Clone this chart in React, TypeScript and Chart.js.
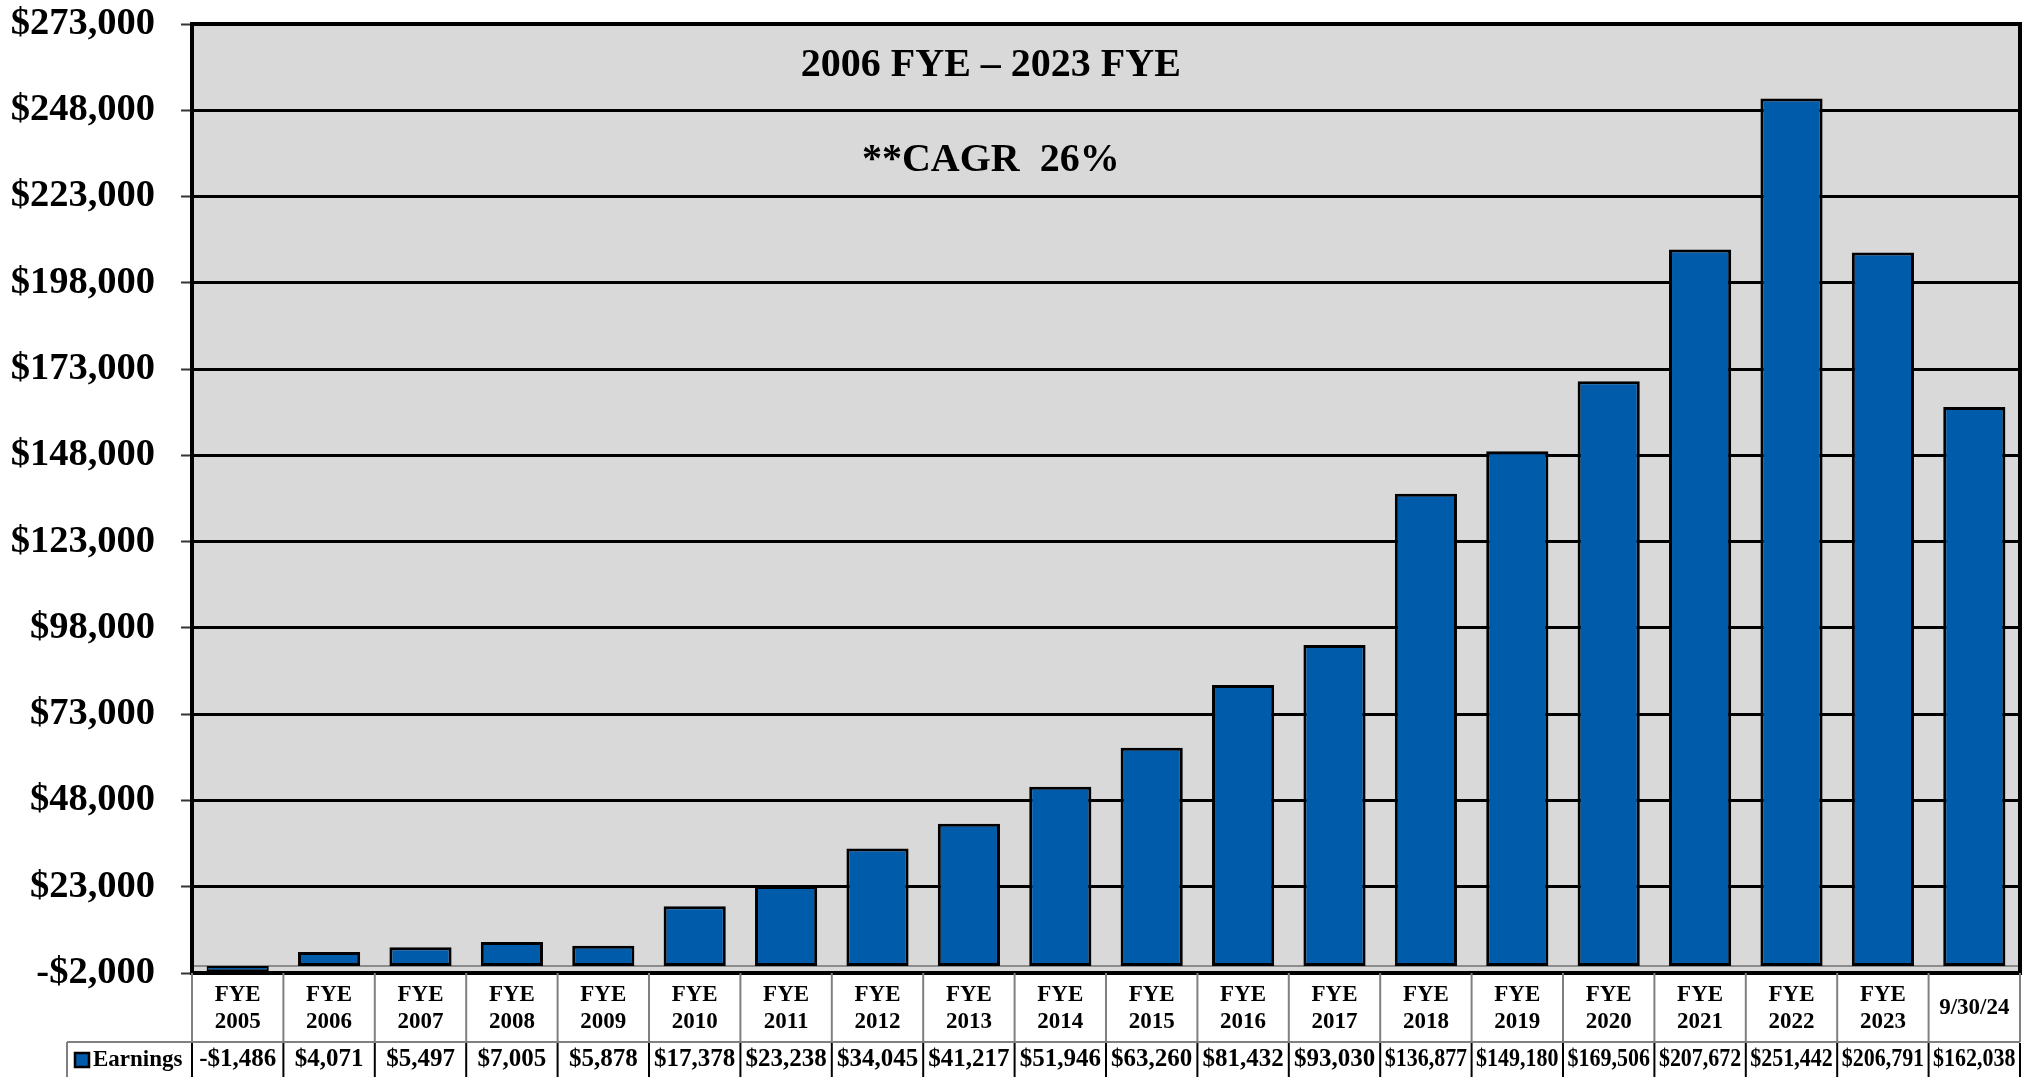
import React, { useEffect, useRef } from "react";
import { Chart, registerables } from "chart.js";

Chart.register(...registerables);

const CATEGORY_LINES: string[][] = [
  ["FYE", "2005"], ["FYE", "2006"], ["FYE", "2007"], ["FYE", "2008"], ["FYE", "2009"],
  ["FYE", "2010"], ["FYE", "2011"], ["FYE", "2012"], ["FYE", "2013"], ["FYE", "2014"],
  ["FYE", "2015"], ["FYE", "2016"], ["FYE", "2017"], ["FYE", "2018"], ["FYE", "2019"],
  ["FYE", "2020"], ["FYE", "2021"], ["FYE", "2022"], ["FYE", "2023"], ["9/30/24"],
];
const EARNINGS: number[] = [
  -1486, 4071, 5497, 7005, 5878, 17378, 23238, 34045, 41217, 51946,
  63260, 81432, 93030, 136877, 149180, 169506, 207672, 251442, 206791, 162038,
];
const SERIES_NAME = "Earnings";
const Y_MIN = -2000;
const Y_MAX = 273000;
const Y_STEP = 25000;
const TITLE_LINES = ["2006 FYE \u2013 2023 FYE", "**CAGR  26%"];

const FONT = '"Liberation Serif", "Times New Roman", serif';
const BAR_BLUE = "#005BAA";
const PLOT_BG = "#D9D9D9";

const fmtMoney = (v: number) =>
  (v < 0 ? "-$" : "$") + Math.abs(v).toLocaleString("en-US");

const W = 2022;
const H = 1077;

export default function App() {
  const ref = useRef<HTMLCanvasElement | null>(null);

  useEffect(() => {
    const canvas = ref.current;
    if (!canvas) return;

    const decor = {
      id: "decor",
      beforeDraw(chart: any) {
        const { ctx, chartArea: a } = chart;
        ctx.save();
        ctx.fillStyle = "#ffffff";
        ctx.fillRect(0, 0, chart.width, chart.height);
        ctx.fillStyle = PLOT_BG;
        ctx.fillRect(a.left, a.top, a.right - a.left, a.bottom - a.top);
        ctx.restore();
      },
      beforeDatasetsDraw(chart: any) {
        const { ctx, chartArea: a } = chart;
        const y0 = chart.scales.y.getPixelForValue(0);
        ctx.save();
        ctx.strokeStyle = "#8c8c8c";
        ctx.lineWidth = 2;
        ctx.beginPath();
        ctx.moveTo(a.left, y0);
        ctx.lineTo(a.right, y0);
        ctx.stroke();
        ctx.restore();
      },
      afterDraw(chart: any) {
        const { ctx, chartArea: a } = chart;
        const xs = chart.scales.x;
        const n = CATEGORY_LINES.length;
        const colW = (a.right - a.left) / n;
        ctx.save();

        // plot border
        ctx.strokeStyle = "#000";
        ctx.lineWidth = 4;
        ctx.strokeRect(a.left, a.top, a.right - a.left, a.bottom - a.top);

        // titles
        ctx.fillStyle = "#000";
        ctx.textAlign = "center";
        ctx.textBaseline = "middle";
        ctx.font = `bold 40px ${FONT}`;
        const tx = a.left + (a.right - a.left) * 0.437;
        ctx.fillText(TITLE_LINES[0], tx, a.top + 42);
        ctx.fillText(TITLE_LINES[1], tx, a.top + 137);

        // data table
        const headTop = a.bottom;
        const headBottom = a.bottom + 69;
        const rowBottom = chart.height;
        const legendLeft = 67;

        ctx.strokeStyle = "#808080";
        ctx.lineWidth = 2;
        for (let i = 0; i <= n; i++) {
          const x = a.left + i * colW;
          ctx.beginPath();
          ctx.moveTo(x, headTop);
          ctx.lineTo(x, headBottom);
          ctx.stroke();
        }
        ctx.beginPath();
        ctx.moveTo(legendLeft, headBottom);
        ctx.lineTo(a.right, headBottom);
        ctx.stroke();
        ctx.beginPath();
        ctx.moveTo(legendLeft, headBottom);
        ctx.lineTo(legendLeft, rowBottom);
        ctx.stroke();

        ctx.strokeStyle = "#000";
        for (let i = 0; i <= n; i++) {
          const x = a.left + i * colW;
          ctx.beginPath();
          ctx.moveTo(x, headBottom + 1);
          ctx.lineTo(x, rowBottom);
          ctx.stroke();
        }

        // header labels
        ctx.font = `bold 23px ${FONT}`;
        ctx.fillStyle = "#000";
        ctx.textAlign = "center";
        ctx.textBaseline = "middle";
        const headMid = (headTop + headBottom) / 2 + 1;
        CATEGORY_LINES.forEach((lines, i) => {
          const cx = xs.getPixelForValue(i);
          const lh = 27;
          const start = headMid - ((lines.length - 1) * lh) / 2;
          lines.forEach((t, j) => ctx.fillText(t, cx, start + j * lh));
        });

        // values
        ctx.font = `bold 25px ${FONT}`;
        const valMid = headBottom + 18;
        EARNINGS.forEach((v, i) => {
          const cx = xs.getPixelForValue(i);
          ctx.fillText(fmtMoney(v), cx, valMid, colW - 9);
        });

        // legend key
        ctx.fillStyle = BAR_BLUE;
        ctx.fillRect(75, valMid - 7, 14, 14);
        ctx.strokeStyle = "#000";
        ctx.lineWidth = 2.5;
        ctx.strokeRect(75, valMid - 7, 14, 14);
        ctx.fillStyle = "#000";
        ctx.textAlign = "left";
        ctx.font = `bold 23px ${FONT}`;
        ctx.fillText(SERIES_NAME, 93, valMid, 92);

        ctx.restore();
      },
    };

    const chart = new Chart(canvas, {
      type: "bar",
      data: {
        labels: CATEGORY_LINES.map((l) => l.join(" ")),
        datasets: [
          {
            label: SERIES_NAME,
            data: EARNINGS,
            backgroundColor: BAR_BLUE,
            borderColor: "#000",
            borderWidth: (c: any) => (Math.abs(c.raw ?? 0) < 3000 ? 2 : 3),
            borderSkipped: false,
            barPercentage: 0.68,
            categoryPercentage: 1,
          },
        ],
      },
      options: {
        animation: false,
        responsive: false,
        devicePixelRatio: 1,
        layout: { padding: { top: 0, right: 2, bottom: 0, left: 0 } },
        plugins: {
          legend: { display: false },
          tooltip: { enabled: false },
          title: { display: false },
        },
        scales: {
          x: {
            ticks: { display: false },
            grid: { display: false, drawTicks: false },
            border: { display: false },
            afterFit: (s: any) => {
              s.height = 104;
            },
          },
          y: {
            min: Y_MIN,
            max: Y_MAX,
            ticks: {
              stepSize: Y_STEP,
              padding: 26,
              color: "#000",
              font: { family: FONT, size: 38.5, weight: "bold" },
              callback: (v: any) => fmtMoney(Number(v)),
            },
            grid: {
              color: "#000",
              lineWidth: 3,
              drawTicks: true,
              tickLength: 11,
              tickColor: "#333",
              tickWidth: 2,
            },
            border: { display: false },
            afterFit: (s: any) => {
              s.width = 192;
              s.paddingTop = 24;
              s.paddingBottom = 0;
            },
          },
        },
      },
      plugins: [decor],
    } as any);

    return () => chart.destroy();
  }, []);

  return (
    <div style={{ position: "fixed", left: 0, top: 0, width: W, height: H, background: "#fff" }}>
      <canvas ref={ref} width={W} height={H} style={{ width: W, height: H, display: "block" }} />
    </div>
  );
}
